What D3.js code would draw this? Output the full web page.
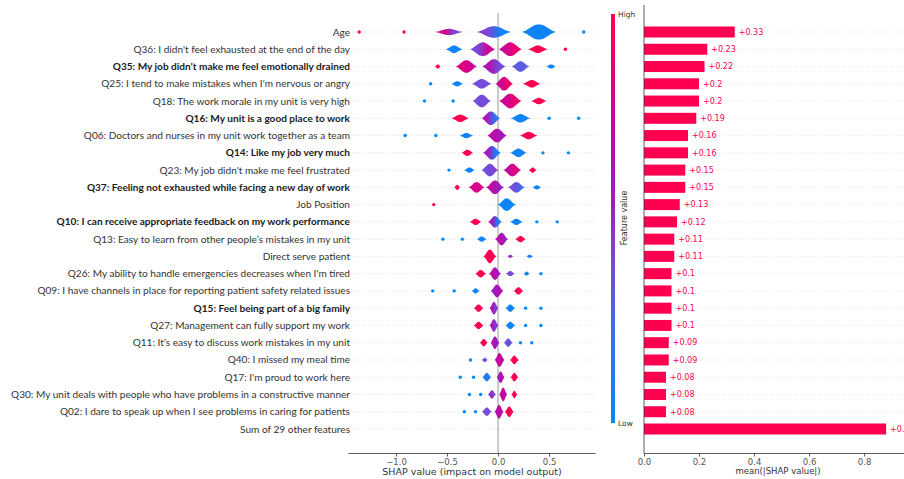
<!DOCTYPE html>
<html>
<head>
<meta charset="utf-8">
<script src="https://cdn.jsdelivr.net/npm/d3@7"></script>
<style>
  body { margin: 0; background: #fff; }
  svg { display: block; }
</style>
</head>
<body>
<div id="shap-chart"></div>
<script>
// features, top to bottom
var features = [
  "Age",
  "Q36: I didn't feel exhausted at the end of the day",
  "Q35: My job didn\u2019t make me feel emotionally drained",
  "Q25: I tend to make mistakes when I'm nervous or angry",
  "Q18: The work morale in my unit is very high",
  "Q16: My unit is a good place to work",
  "Q06: Doctors and nurses in my unit work together as a team",
  "Q14: Like my job very much",
  "Q23: My job didn't make me feel frustrated",
  "Q37: Feeling not exhausted while facing a new day of work",
  "Job Position",
  "Q10: I can receive appropriate feedback on my work performance",
  "Q13: Easy to learn from other people\u2019s mistakes in my unit",
  "Direct serve patient",
  "Q26: My ability to handle emergencies decreases when I'm tired",
  "Q09: I have channels in place for reporting patient safety related issues",
  "Q15: Feel being part of a big family",
  "Q27: Management can fully support my work",
  "Q11: It\u2019s easy to discuss work mistakes in my unit",
  "Q40: I missed my meal time",
  "Q17: I'm proud to work here",
  "Q30: My unit deals with people who have problems in a constructive manner",
  "Q02: I dare to speak up when I see problems in caring for patients",
  "Sum of 29 other features"
];

// questions printed in bold in the original
var boldFeatures = ["Q35", "Q16", "Q14", "Q37", "Q10", "Q15"];

// mean(|SHAP value|) per feature
var meanAbsShap = [0.33, 0.23, 0.22, 0.2, 0.2, 0.19, 0.16, 0.16, 0.15, 0.15, 0.13, 0.12,
                   0.11, 0.11, 0.1, 0.1, 0.1, 0.1, 0.09, 0.09, 0.08, 0.08, 0.08, 0.88];

// violin clusters per feature: [shap center, spread, density, feature value left, feature value right]
// spread 0 = single point
var clusters = [
  [[-1.36,0,0,1,1],[-0.92,0,0,1,1],[-0.48,0.14,0.4,0.8,0.4],[-0.04,0.175,0.73,0.42,0.05],[0.40,0.175,0.95,0.05,0.05],[0.84,0,0,0,0]],
  [[-0.43,0.085,0.47,0.05,0.05],[-0.15,0.13,0.87,0.38,0.75],[0.12,0.12,0.87,0.75,0.9],[0.39,0.10,0.47,1,1],[0.66,0,0,1,1]],
  [[-0.59,0.03,0.27,1,1],[-0.31,0.11,0.8,0.85,0.75],[-0.04,0.12,0.93,0.62,0.4],[0.22,0.09,0.67,0.3,0.3],[0.52,0.05,0.27,0.05,0.05]],
  [[-0.66,0,0,0,0],[-0.40,0.06,0.33,0.05,0.05],[-0.16,0.1,0.6,0.38,0.38],[0.06,0.09,0.87,0.75,0.9],[0.33,0.09,0.47,1,1]],
  [[-0.72,0,0,0,0],[-0.44,0,0,0,0],[-0.16,0.095,0.8,0.38,0.38],[0.12,0.115,0.93,0.75,0.9],[0.40,0.08,0.4,1,1]],
  [[-0.37,0.09,0.47,1,1],[-0.07,0.095,0.87,0.62,0.15],[0.22,0.1,0.53,0.05,0.05],[0.50,0,0,0,0],[0.79,0,0,0,0]],
  [[-0.91,0,0,0,0],[-0.61,0,0,0,0],[-0.31,0.07,0.33,0.05,0.05],[-0.01,0.1,0.87,0.68,0.58],[0.30,0.09,0.47,1,1]],
  [[-0.30,0.06,0.4,1,1],[-0.06,0.09,0.87,0.58,0.1],[0.20,0.085,0.53,0.05,0.05],[0.44,0,0,0,0],[0.69,0,0,0,0]],
  [[-0.48,0,0,0,0],[-0.28,0.055,0.33,0.05,0.05],[-0.08,0.085,0.8,0.35,0.42],[0.14,0.09,0.8,0.72,0.85],[0.34,0.04,0.33,1,1]],
  [[-0.40,0.03,0.33,1,1],[-0.21,0.08,0.67,0.8,0.8],[-0.03,0.09,0.87,0.7,0.55],[0.18,0.085,0.67,0.38,0.25],[0.38,0.045,0.27,0.05,0.05]],
  [[-0.63,0,0,1,1],[0.085,0.09,0.8,0.05,0.05]],
  [[-0.22,0.06,0.4,1,1],[-0.03,0.07,0.73,0.58,0.1],[0.18,0.065,0.4,0.05,0.05],[0.38,0,0,0,0],[0.58,0,0,0,0]],
  [[-0.54,0,0,0,0],[-0.35,0,0,0,0],[-0.16,0.05,0.33,0.05,0.05],[0.035,0.065,0.8,0.68,0.55],[0.22,0.055,0.4,1,1]],
  [[-0.08,0.065,0.87,1,1],[0.12,0.03,0.2,0.5,0.5],[0.31,0.035,0.2,0.05,0.05]],
  [[-0.17,0.055,0.47,1,1],[-0.03,0.06,0.8,0.68,0.58],[0.12,0.045,0.33,0.38,0.38],[0.28,0.03,0.27,0.05,0.05],[0.42,0,0,0,0]],
  [[-0.64,0,0,0,0],[-0.43,0,0,0,0],[-0.22,0.04,0.33,0.05,0.05],[-0.01,0.065,0.8,0.55,0.65],[0.20,0.05,0.47,1,1]],
  [[-0.19,0.05,0.47,1,1],[-0.04,0.045,0.8,0.58,0.45],[0.12,0.05,0.47,0.05,0.05],[0.27,0,0,0,0],[0.42,0,0,0,0]],
  [[-0.19,0.05,0.47,1,1],[-0.04,0.045,0.8,0.58,0.45],[0.12,0.05,0.47,0.05,0.05],[0.27,0,0,0,0],[0.42,0,0,0,0]],
  [[-0.14,0.04,0.47,1,1],[-0.03,0.045,0.8,0.62,0.55],[0.10,0.045,0.53,0.35,0.35],[0.22,0,0,0.05,0.05],[0.33,0,0,0,0]],
  [[-0.27,0,0,0,0],[-0.13,0.03,0.27,0.38,0.38],[0.015,0.05,0.87,0.72,0.72],[0.16,0.045,0.53,1,1]],
  [[-0.37,0,0,0,0],[-0.24,0,0,0,0],[-0.11,0.045,0.53,0.12,0.12],[0.025,0.04,0.73,0.55,0.68],[0.16,0.04,0.53,1,1]],
  [[-0.28,0,0,0,0],[-0.17,0,0,0,0],[-0.06,0.04,0.53,0.45,0.45],[0.05,0.04,0.87,0.72,0.72],[0.16,0.03,0.47,1,1]],
  [[-0.33,0,0,0,0],[-0.22,0,0,0,0],[-0.11,0.05,0.53,0.38,0.38],[0.01,0.045,0.87,0.68,0.68],[0.11,0.045,0.67,1,1]],
  []
];

var shapTicks = [-1.0, -0.5, 0.0, 0.5];
var meanTicks = [0.0, 0.2, 0.4, 0.6, 0.8];

var width = 904, height = 479;
var shapRed = "#ff0051", shapBlue = "#008bfb";
// low -> high feature value
var colorOf = d3.scaleLinear()
    .domain([0, 0.25, 0.4, 0.55, 0.75, 1])
    .range([shapBlue, "#4a66ea", "#7a48d6", "#9d1cc0", "#cc0496", shapRed])
    .clamp(true);
var fmtTick = function(d){ return d3.format(".1f")(d).replace("-", "\u2212"); };

var svg = d3.select("#shap-chart").append("svg")
    .attr("width", width)
    .attr("height", height);
var defs = svg.append("defs");

// shared row scale
var y = d3.scalePoint().domain(features).range([32, 429]);

/* ---------- left: SHAP violin summary ---------- */
var xs = d3.scaleLinear().domain([-1.47, 0.95]).range([348, 595]);
var halfH = d3.scaleLinear().domain([0, 1]).range([0, 8]);

// dotted row guides
svg.append("g").selectAll("line").data(features).join("line")
    .attr("x1", 353).attr("x2", xs.range()[1])
    .attr("y1", function(d){ return y(d); }).attr("y2", function(d){ return y(d); })
    .attr("stroke", "#d8d8d8").attr("stroke-width", 0.8)
    .attr("stroke-dasharray", "1,2");

// zero line
svg.append("line")
    .attr("x1", xs(0)).attr("x2", xs(0))
    .attr("y1", 13).attr("y2", 453)
    .attr("stroke", "#999").attr("stroke-width", 1);

// feature labels
var labels = svg.append("g").selectAll("text").data(features).join("text")
    .attr("x", 350)
    .attr("y", function(d){ return y(d); })
    .attr("dy", "0.35em")
    .attr("text-anchor", "end")
    .attr("font-family", "Lato, 'Open Sans', sans-serif")
    .attr("font-size", 11)
    .attr("font-weight", function(d){
        return boldFeatures.indexOf(d.split(":")[0]) >= 0 ? "bold" : "normal";
    })
    .attr("fill", function(d){
        return boldFeatures.indexOf(d.split(":")[0]) >= 0 ? "#1a1a1a" : "#333";
    })
    .text(function(d){ return d; });

// fit the widest label to the reference width
var widest = d3.max(labels.nodes(), function(n){ return n.getComputedTextLength(); });
labels.attr("font-size", 11 * 339 / widest);

// violins
var profile = d3.range(0, 1.0001, 0.05);
var area = d3.area()
    .x(function(p){ return p[0]; })
    .y0(function(p){ return p[1]; })
    .y1(function(p){ return p[2]; })
    .curve(d3.curveBasis);

var gv = svg.append("g");
clusters.forEach(function(row, i){
    var cy = y(features[i]);
    row.forEach(function(c, j){
        var x0 = c[0], spread = c[1], dens = c[2];
        if (spread === 0) {
            gv.append("circle")
                .attr("cx", xs(x0)).attr("cy", cy).attr("r", 1.7)
                .attr("fill", colorOf(c[3]));
            return;
        }
        var gid = "vg" + i + "_" + j;
        var grad = defs.append("linearGradient").attr("id", gid)
            .attr("x1", "0%").attr("x2", "100%").attr("y1", "0%").attr("y2", "0%");
        grad.append("stop").attr("offset", "30%").attr("stop-color", colorOf(c[3]));
        grad.append("stop").attr("offset", "70%").attr("stop-color", colorOf(c[4]));
        var pts = profile.map(function(t){
            var u = t * 2 - 1;
            var h = halfH(dens) * Math.pow(Math.cos(u * Math.PI / 2), 1.8);
            return [xs(x0 + u * spread), cy - h, cy + h];
        });
        gv.append("path")
            .attr("d", area(pts))
            .attr("fill", "url(#" + gid + ")");
    });
});

// bottom axis
var axL = svg.append("g")
    .attr("transform", "translate(0,453)")
    .call(d3.axisBottom(xs).tickValues(shapTicks).tickFormat(fmtTick).tickSize(3.5).tickSizeOuter(0));
axL.select(".domain").attr("stroke", "#333").attr("stroke-width", 0.8);
axL.selectAll(".tick line").attr("stroke", "#333").attr("stroke-width", 0.8);
axL.selectAll(".tick text").attr("font-family", "'DejaVu Sans', sans-serif")
    .attr("font-size", 8.5).attr("fill", "#555").attr("dy", "0.6em");

svg.append("text")
    .attr("x", 472).attr("y", 475)
    .attr("text-anchor", "middle")
    .attr("font-family", "'DejaVu Sans', sans-serif")
    .attr("font-size", 9.5).attr("fill", "#333")
    .text("SHAP value (impact on model output)");

/* ---------- colour bar ---------- */
var cb = defs.append("linearGradient").attr("id", "cbar")
    .attr("x1", "0%").attr("x2", "0%").attr("y1", "100%").attr("y2", "0%");
d3.range(0, 1.0001, 0.05).forEach(function(t){
    cb.append("stop").attr("offset", (t * 100) + "%").attr("stop-color", colorOf(t));
});
svg.append("rect")
    .attr("x", 611).attr("y", 14).attr("width", 4).attr("height", 409)
    .attr("fill", "url(#cbar)");
svg.append("text").attr("x", 618).attr("y", 17)
    .attr("font-family", "'DejaVu Sans', sans-serif").attr("font-size", 7.5).attr("fill", "#333")
    .text("High");
svg.append("text").attr("x", 618).attr("y", 426)
    .attr("font-family", "'DejaVu Sans', sans-serif").attr("font-size", 7.5).attr("fill", "#333")
    .text("Low");
svg.append("text")
    .attr("transform", "translate(627,218) rotate(-90)")
    .attr("text-anchor", "middle")
    .attr("font-family", "'DejaVu Sans', sans-serif").attr("font-size", 8).attr("fill", "#333")
    .text("Feature value");

/* ---------- right: mean |SHAP| bars ---------- */
var xb = d3.scaleLinear().domain([0, 0.945]).range([644, 904]);
var barH = 11;

svg.append("g").selectAll("line").data(features).join("line")
    .attr("x1", xb(0)).attr("x2", width)
    .attr("y1", function(d){ return y(d); }).attr("y2", function(d){ return y(d); })
    .attr("stroke", "#dcdcdc").attr("stroke-width", 0.8)
    .attr("stroke-dasharray", "1,2");

svg.append("g").selectAll("rect").data(meanAbsShap).join("rect")
    .attr("x", xb(0))
    .attr("y", function(d, i){ return y(features[i]) - barH / 2; })
    .attr("width", function(d){ return xb(d) - xb(0); })
    .attr("height", barH)
    .attr("fill", shapRed);

svg.append("g").selectAll("text").data(meanAbsShap).join("text")
    .attr("x", function(d){ return xb(d) + 4; })
    .attr("y", function(d, i){ return y(features[i]); })
    .attr("dy", "0.35em")
    .attr("font-family", "'DejaVu Sans', sans-serif")
    .attr("font-size", 8).attr("fill", shapRed)
    .text(function(d){ return "+" + d; });

svg.append("line")
    .attr("x1", xb(0)).attr("x2", xb(0)).attr("y1", 5).attr("y2", 453)
    .attr("stroke", "#333").attr("stroke-width", 0.8);

var axR = svg.append("g")
    .attr("transform", "translate(0,453)")
    .call(d3.axisBottom(xb).tickValues(meanTicks).tickFormat(d3.format(".1f")).tickSize(3.5).tickSizeOuter(0));
axR.select(".domain").attr("stroke", "#333").attr("stroke-width", 0.8);
axR.selectAll(".tick line").attr("stroke", "#333").attr("stroke-width", 0.8);
axR.selectAll(".tick text").attr("font-family", "'DejaVu Sans', sans-serif")
    .attr("font-size", 8.5).attr("fill", "#555").attr("dy", "0.6em");

svg.append("text")
    .attr("x", 778).attr("y", 474)
    .attr("text-anchor", "middle")
    .attr("font-family", "'DejaVu Sans', sans-serif")
    .attr("font-size", 8.5).attr("fill", "#333")
    .text("mean(|SHAP value|)");
</script>
</body>
</html>
